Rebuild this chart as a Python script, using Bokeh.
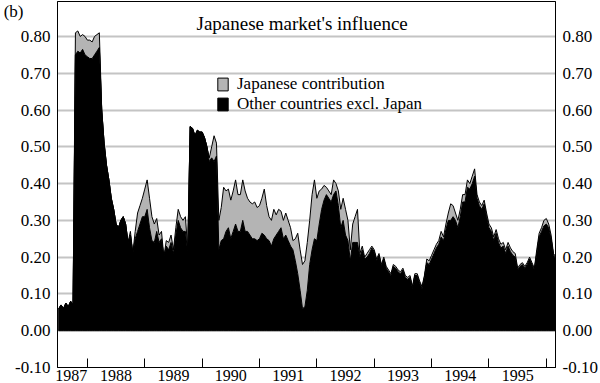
import numpy as np
from bokeh.plotting import figure
from bokeh.models import (Range1d, LinearAxis, FixedTicker, NumeralTickFormatter,
                          Legend, LegendItem, Label)
from bokeh.embed import file_html
from bokeh.resources import INLINE

# ---------------- data ----------------
start_year = 1987.5      # first observation: July 1987
obs_per_year = 24        # semi-monthly observations

other = [
    0.06, 0.07, 0.06, 0.075, 0.065, 0.08, 0.07, 0.75, 0.76, 0.755,
    0.765, 0.75, 0.745, 0.74, 0.74, 0.75, 0.76, 0.77, 0.60, 0.51,
    0.45, 0.41, 0.36, 0.33, 0.29, 0.28, 0.30, 0.31, 0.29, 0.24,
    0.26, 0.21, 0.25, 0.27, 0.29, 0.31, 0.31, 0.33, 0.28, 0.245,
    0.24, 0.27, 0.24, 0.25, 0.20, 0.23, 0.22, 0.24, 0.21, 0.26,
    0.30, 0.28, 0.27, 0.27, 0.21, 0.555, 0.55, 0.53, 0.545, 0.54,
    0.54, 0.525, 0.50, 0.46, 0.47, 0.46, 0.475, 0.22, 0.245, 0.25,
    0.27, 0.28, 0.25, 0.27, 0.29, 0.27, 0.27, 0.30, 0.27, 0.27,
    0.26, 0.25, 0.25, 0.245, 0.25, 0.265, 0.26, 0.25, 0.245, 0.23,
    0.25, 0.26, 0.27, 0.28, 0.25, 0.26, 0.245, 0.23, 0.22, 0.19,
    0.155, 0.11, 0.06, 0.065, 0.11, 0.18, 0.22, 0.25, 0.245, 0.29,
    0.33, 0.355, 0.37, 0.36, 0.35, 0.37, 0.38, 0.34, 0.28, 0.30,
    0.26, 0.245, 0.19, 0.24, 0.24, 0.24, 0.20, 0.22, 0.195, 0.20,
    0.21, 0.225, 0.215, 0.19, 0.205, 0.175, 0.195, 0.17, 0.16, 0.15,
    0.175, 0.17, 0.16, 0.155, 0.165, 0.145, 0.14, 0.145, 0.115, 0.15,
    0.15, 0.13, 0.115, 0.145, 0.185, 0.18, 0.195, 0.21, 0.225, 0.235,
    0.255, 0.245, 0.275, 0.30, 0.30, 0.31, 0.30, 0.28, 0.31, 0.35,
    0.35, 0.39, 0.385, 0.40, 0.42, 0.36, 0.34, 0.33, 0.345, 0.31,
    0.28, 0.27, 0.245, 0.265, 0.24, 0.225, 0.23, 0.21, 0.23, 0.215,
    0.205, 0.20, 0.165, 0.175, 0.18, 0.17, 0.18, 0.195, 0.18, 0.165,
    0.21, 0.255, 0.27, 0.285, 0.29, 0.28, 0.25, 0.205, 0.195,
]

japan = [
    0, 0, 0, 0, 0, 0, 0, 0.06, 0.055, 0.045,
    0.04, 0.05, 0.045, 0.05, 0.045, 0.05, 0.045, 0.04, 0, 0,
    0, 0, 0, 0, 0, 0, 0, 0, 0, 0,
    0.01, 0, 0.02, 0.05, 0.05, 0.05, 0.075, 0.08, 0.08, 0.065,
    0.05, 0.035, 0.02, 0.02, 0, 0.015, 0.02, 0.02, 0.01, 0.02,
    0.03, 0.03, 0.03, 0.04, 0.01, 0, 0, 0, 0, 0,
    0, 0, 0, 0.01, 0.03, 0.07, 0.035, 0.08, 0.09, 0.14,
    0.11, 0.105, 0.105, 0.11, 0.12, 0.10, 0.10, 0.11, 0.11, 0.09,
    0.09, 0.095, 0.10, 0.09, 0.09, 0.095, 0.125, 0.09, 0.065, 0.07,
    0.08, 0.055, 0.06, 0.045, 0.05, 0.06, 0.055, 0.05, 0.025, 0.06,
    0.11, 0.11, 0.12, 0.125, 0.13, 0.12, 0.15, 0.16, 0.115, 0.09,
    0.055, 0.04, 0.02, 0.02, 0.02, 0.04, 0.02, 0.04, 0.05, 0.06,
    0.07, 0.055, 0.03, 0.05, 0.07, 0.09, 0.01, 0.01, 0.005, 0.01,
    0.01, 0.005, 0.005, 0.005, 0.005, 0.005, 0.005, 0.005, 0.005, 0.005,
    0.005, 0.005, 0.005, 0.005, 0.005, 0.005, 0.005, 0.005, 0.005, 0.005,
    0.005, 0.005, 0.005, 0.005, 0.01, 0.01, 0.01, 0.01, 0.01, 0.01,
    0.015, 0.01, 0.015, 0.02, 0.045, 0.03, 0.02, 0.02, 0.02, 0.02,
    0.02, 0.02, 0.015, 0.02, 0.02, 0.01, 0.01, 0.01, 0.01, 0.01,
    0.01, 0.01, 0.01, 0.01, 0.01, 0.01, 0.01, 0.01, 0.01, 0.01,
    0.01, 0.01, 0.005, 0.005, 0.005, 0.005, 0.005, 0.005, 0.005, 0.005,
    0.01, 0.01, 0.01, 0.015, 0.015, 0.01, 0.01, 0.005, 0.005,
]

year_bounds = [1988, 1989, 1990, 1991, 1992, 1993, 1994, 1995, 1996]
year_label_pos = [1987.72, 1988.5, 1989.5, 1990.5, 1991.5, 1992.5, 1993.5, 1994.5, 1995.5]
year_labels = ["1987", "1988", "1989", "1990", "1991", "1992", "1993", "1994", "1995"]
y_ticks = [-0.10, 0.00, 0.10, 0.20, 0.30, 0.40, 0.50, 0.60, 0.70, 0.80]

series_names = ["Japanese contribution", "Other countries excl. Japan"]
title_text = "Japanese  market's influence"
panel_text = "(b)"
panel_tag_pos = 0.877   # height of the panel tag, in axis units

# ---------------- build ----------------
FONT = "Liberation Serif"

years = start_year + np.arange(len(other)) / obs_per_year
oth = np.array(other)
tot = oth + np.array(japan)

px = np.concatenate([years, years[::-1]])
black_y = np.concatenate([oth, np.zeros_like(oth)])
grey_y = np.concatenate([tot, oth[::-1]])

p = figure(width=600, height=383, output_backend="svg", toolbar_location=None,
           x_range=Range1d(1987.479, 1996.16), y_range=Range1d(-0.10, 0.895),
           min_border_left=57, min_border_right=43, min_border_top=1,
           min_border_bottom=15)
p.background_fill_color = "white"
p.border_fill_color = "white"
p.outline_line_color = "black"
p.outline_line_width = 1
p.outline_line_alpha = 1

blk = p.patch(px, black_y, fill_color="black", line_color="black", line_width=1)
gry = p.patch(px, grey_y, fill_color="#b4b4b4", line_color="black", line_width=1)

# grid
p.xgrid.visible = False
p.ygrid.ticker = FixedTicker(ticks=y_ticks)
p.ygrid.grid_line_color = "#c4c4c4"
p.ygrid.grid_line_width = 2

# x axis
xa = p.xaxis[0]
xa.ticker = FixedTicker(ticks=year_label_pos, minor_ticks=year_bounds)
xa.major_label_overrides = dict(zip(year_label_pos, year_labels))
xa.major_tick_in = 0
xa.major_tick_out = 0
xa.minor_tick_in = 9
xa.minor_tick_out = 0
xa.minor_tick_line_color = "black"
xa.axis_line_color = "black"
xa.major_label_standoff = 2
xa.major_label_text_line_height = 0.7
xa.major_label_text_font = FONT
xa.major_label_text_font_size = "16px"
xa.major_label_text_color = "black"

# y axes
ya = p.yaxis[0]
ya.ticker = FixedTicker(ticks=y_ticks)
ya.formatter = NumeralTickFormatter(format="0.00")
yr = LinearAxis(ticker=FixedTicker(ticks=y_ticks), formatter=NumeralTickFormatter(format="0.00"))
p.add_layout(yr, "right")
for a in (ya, yr):
    a.major_tick_in = 0
    a.major_tick_out = 0
    a.minor_tick_line_color = None
    a.axis_line_color = "black"
    a.major_label_standoff = 7
    a.major_label_text_font = FONT
    a.major_label_text_font_size = "17px"
    a.major_label_text_color = "black"

# outer left axis carrying the panel tag "(b)"
tag_axis = LinearAxis(ticker=FixedTicker(ticks=[panel_tag_pos]),
                      major_label_overrides={panel_tag_pos: panel_text})
tag_axis.axis_line_color = None
tag_axis.major_tick_line_color = None
tag_axis.minor_tick_line_color = None
tag_axis.major_tick_in = 0
tag_axis.major_tick_out = 0
tag_axis.major_label_standoff = -11
tag_axis.major_label_text_font = FONT
tag_axis.major_label_text_font_size = "17px"
tag_axis.major_label_text_color = "black"
p.add_layout(tag_axis, "left")

# legend
legend = Legend(items=[LegendItem(label=series_names[0], renderers=[gry]),
                       LegendItem(label=series_names[1], renderers=[blk])],
                location=(159, 253), padding=0, margin=0, spacing=-1,
                glyph_width=13, glyph_height=16, label_standoff=8, label_height=17,
                border_line_alpha=0, background_fill_alpha=0,
                label_text_font=FONT, label_text_font_size="17px",
                label_text_color="black")
p.add_layout(legend)

p.add_layout(Label(x=247, y=344, x_units="screen", y_units="screen", text=title_text,
                   text_align="center", text_baseline="alphabetic", text_font=FONT,
                   text_font_size="19px", text_color="black"))

open("out.html", "w").write(file_html(p, INLINE))
